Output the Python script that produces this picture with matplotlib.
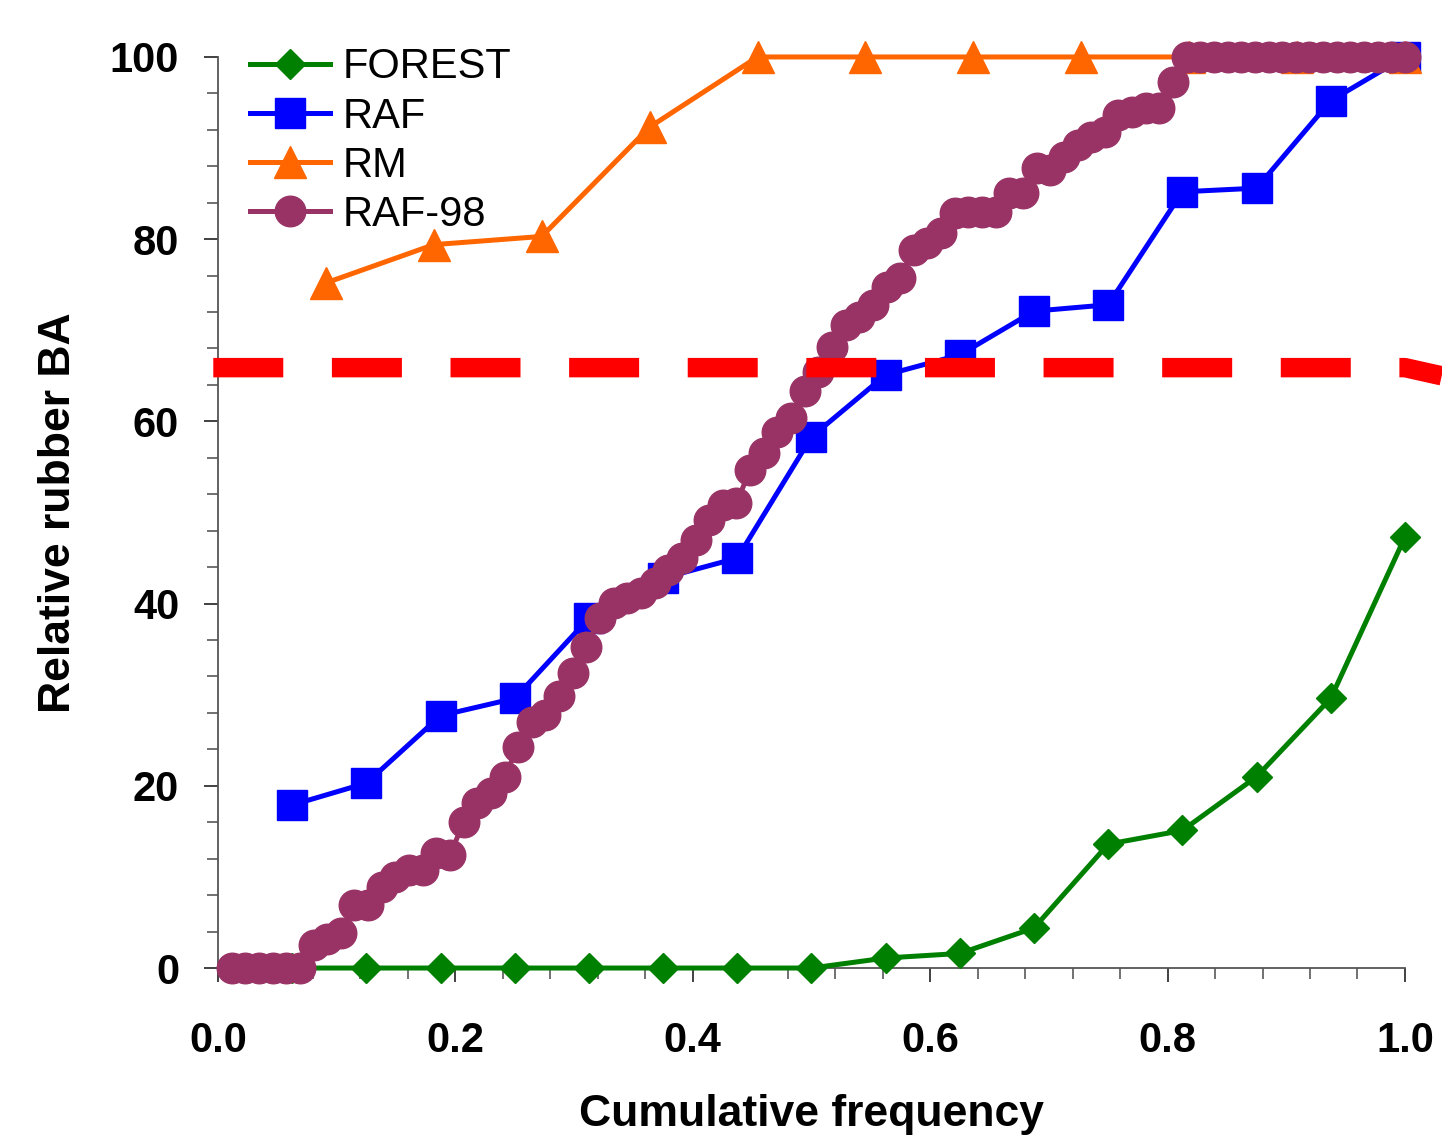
import matplotlib
matplotlib.use("Agg")
import matplotlib.pyplot as plt
import numpy as np
from matplotlib.ticker import MultipleLocator

plt.rcParams['font.family'] = ['Liberation Sans', 'DejaVu Sans']

# FOREST and RAF share 16 plots, RM has 11, RAF-98 has 87
forest_y = [0, 0, 0, 0, 0, 0, 0, 0, 1.1, 1.6, 4.4, 13.6, 15.1, 21.0, 29.6, 47.3]
raf_y = [17.9, 20.3, 27.7, 29.6, 38.4, 42.8, 45.0, 58.3, 65.1, 67.3, 72.1, 72.8,
         85.2, 85.6, 95.2, 100]
rm_y = [75.2, 79.4, 80.3, 92.3, 100, 100, 100, 100, 100, 100, 100]
raf98_y = [0, 0, 0, 0, 0, 0,
           2.5, 3.2, 3.8, 6.9, 6.9, 8.9, 10.0, 10.8, 10.8, 12.6,
           12.4, 16.0, 18.1, 19.2, 21.0, 24.3, 27.0, 27.8, 29.9, 32.4,
           35.2, 38.4, 40.1, 40.6, 41.2, 42.3, 43.7, 45.0, 47.0, 49.2,
           50.8, 51.0, 54.7, 56.5, 58.8, 60.4, 63.3, 65.4, 68.2, 70.6,
           71.5, 72.8, 74.8, 75.7, 78.8, 79.6, 80.7, 82.9, 83.0, 83.0,
           83.0, 85.1, 85.1, 87.8, 87.6, 89.0, 90.3, 91.2, 91.8, 93.6,
           94.0, 94.4, 94.4, 97.3] + [100] * 17

forest_x = np.arange(1, len(forest_y) + 1) / len(forest_y)
raf_x = np.arange(1, len(raf_y) + 1) / len(raf_y)
rm_x = np.arange(1, len(rm_y) + 1) / len(rm_y)
raf98_x = np.arange(1, len(raf98_y) + 1) / len(raf98_y)

# threshold line (red dashes)
thr_x = [-0.004, 1.0, 1.031]
thr_y = [65.9, 65.9, 65.0]

fig = plt.figure(figsize=(14.42, 11.46), dpi=100)
ax = fig.add_axes([0.1512, 0.1553, 0.8231, 0.795])

l1, = ax.plot(forest_x, forest_y, color='#008000', lw=3.6, marker='D', ms=15.5,
              clip_on=False, zorder=3, label='FOREST')
l2, = ax.plot(raf_x, raf_y, color='#0000FF', lw=3.6, marker='s', ms=21.5,
              clip_on=False, zorder=4, label='RAF')
l3, = ax.plot(rm_x, rm_y, color='#FF6600', lw=3.6, marker='^', ms=23,
              clip_on=False, zorder=4, label='RM')
l4, = ax.plot(raf98_x, raf98_y, color='#993366', lw=3.6, marker='o', ms=22,
              clip_on=False, zorder=5, label='RAF-98')
ax.plot(thr_x, thr_y, color='#FF0000', lw=14, dashes=(3.6, 2.5),
        solid_capstyle='butt', dash_capstyle='butt', clip_on=False, zorder=6)

ax.set_xlim(0, 1.0)
ax.set_ylim(0, 100)
ax.spines['top'].set_visible(False)
ax.spines['right'].set_visible(False)
for s in ['left', 'bottom']:
    ax.spines[s].set_color('#555555')
    ax.spines[s].set_linewidth(1.3)

ax.xaxis.set_major_locator(MultipleLocator(0.2))
ax.xaxis.set_minor_locator(MultipleLocator(0.04))
ax.yaxis.set_major_locator(MultipleLocator(20))
ax.yaxis.set_minor_locator(MultipleLocator(4))
ax.xaxis.set_major_formatter(matplotlib.ticker.FormatStrFormatter('%.1f'))
ax.tick_params(which='major', direction='out', length=10, width=1.3,
               color='#333333', labelsize=30)
ax.tick_params(which='minor', direction='out', length=8, width=1.3, color='#666666')
ax.tick_params(axis='x', which='major', pad=28)
ax.tick_params(axis='y', which='major', pad=18)
for lab in ax.get_xticklabels() + ax.get_yticklabels():
    lab.set_fontweight('bold')

ax.set_xlabel('Cumulative frequency', fontsize=32, fontweight='bold', labelpad=24)
ax.set_ylabel('Relative rubber BA', fontsize=32, fontweight='bold', labelpad=22)

ax.legend(handles=[l1, l2, l3, l4], loc='upper left', bbox_to_anchor=(0.027, 1.0105),
          frameon=False, fontsize=30, borderpad=0, borderaxespad=0,
          handlelength=1.92, handletextpad=0.31, labelspacing=0.22, numpoints=1)

fig.savefig('out.png', dpi=100)
